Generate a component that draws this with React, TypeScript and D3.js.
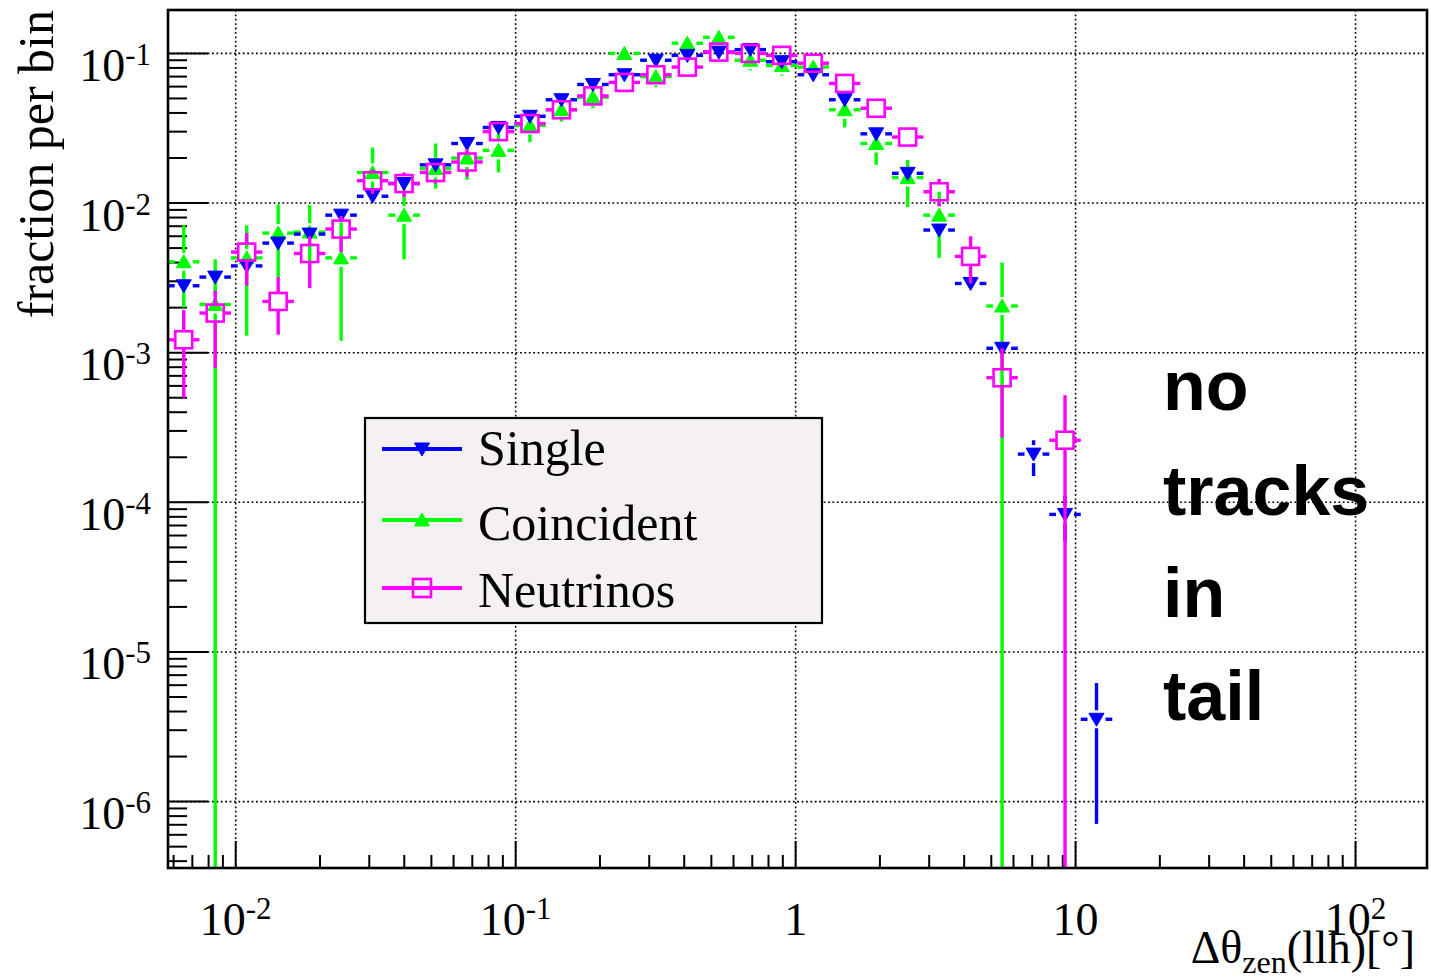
import React from 'react';
import * as d3 from 'd3';

// ---------- data ----------
const X_MIN = (1e-4 * 180) / Math.PI; // 1e-4 rad in degrees
const X_MAX = 180;
const N_BINS = 40;
const Y_MIN = 3.6e-7;
const Y_MAX = 0.195;

const xMajorTicks = [1e-2, 1e-1, 1, 10, 100];
const xMajorBase = ['10', '10', '1', '10', '10'];
const xMajorExp = ['-2', '-1', '', '', '2'];
const yMajorTicks = [1e-1, 1e-2, 1e-3, 1e-4, 1e-5, 1e-6];
const yMajorExp = ['-1', '-2', '-3', '-4', '-5', '-6'];

const seriesNames = ['Single', 'Coincident', 'Neutrinos'];
const seriesColors = ['#0000ff', '#00ff00', '#ff00ff'];

const singleVal = [2.8e-3, 3.2e-3, 3.8e-3, 5.4e-3, 6.2e-3, 8.3e-3, 1.11e-2, 1.35e-2, 1.8e-2, 2.5e-2, 3.2e-2, 3.8e-2, 4.9e-2, 6.2e-2, 7.2e-2, 9.0e-2, 9.7e-2, 1.02e-1, 1.06e-1, 8.8e-2, 7.2e-2, 4.9e-2, 2.9e-2, 1.58e-2, 6.6e-3, 2.9e-3, 1.07e-3, 2.1e-4, 8.3e-5, 3.55e-6];
const singleLo = [2.5e-3, 2.9e-3, 3.4e-3, 4.9e-3, 5.6e-3, 7.6e-3, 1.03e-2, 1.26e-2, 1.7e-2, 2.38e-2, 3.07e-2, 3.66e-2, 4.75e-2, 6.03e-2, 7.03e-2, 8.8e-2, 9.5e-2, 1.0e-1, 1.04e-1, 8.62e-2, 7.03e-2, 4.75e-2, 2.78e-2, 1.5e-2, 6.1e-3, 2.6e-3, 9.2e-4, 1.5e-4, 5.5e-5, 7.1e-7];
const singleHi = [3.1e-3, 3.5e-3, 4.2e-3, 5.9e-3, 6.8e-3, 9.0e-3, 1.19e-2, 1.44e-2, 1.9e-2, 2.62e-2, 3.33e-2, 3.94e-2, 5.05e-2, 6.37e-2, 7.37e-2, 9.2e-2, 9.9e-2, 1.04e-1, 1.08e-1, 8.98e-2, 7.37e-2, 5.05e-2, 3.02e-2, 1.66e-2, 7.1e-3, 3.2e-3, 1.22e-3, 2.6e-4, 1.1e-4, 6.2e-6];

const coincVal = [4.05e-3, 2.1e-3, 4.3e-3, 6.3e-3, 6.4e-3, 4.3e-3, 1.6e-2, 8.3e-3, 1.7e-2, 2.0e-2, 2.25e-2, 3.3e-2, 4.2e-2, 5.1e-2, 1.0e-1, 7.0e-2, 1.17e-1, 1.28e-1, 9.0e-2, 8.3e-2, 8.1e-2, 4.2e-2, 2.5e-2, 1.48e-2, 8.3e-3, null, 2.05e-3, null, null, null];
const coincLo = [2.0e-3, 0, 1.3e-3, 3.2e-3, 2.7e-3, 1.2e-3, 1.05e-2, 4.2e-3, 1.25e-2, 1.43e-2, 1.6e-2, 2.55e-2, 3.5e-2, 4.3e-2, 8.8e-2, 5.95e-2, 1.03e-1, 1.14e-1, 7.7e-2, 7.1e-2, 6.9e-2, 3.2e-2, 1.8e-2, 9.4e-3, 4.3e-3, null, 0, null, null, null];
const coincHi = [7.1e-3, 4.2e-3, 7.1e-3, 9.8e-3, 9.7e-3, 7.4e-3, 2.35e-2, 1.25e-2, 2.5e-2, 2.5e-2, 2.9e-2, 4.0e-2, 5.0e-2, 5.9e-2, 1.12e-1, 8.0e-2, 1.31e-1, 1.42e-1, 1.03e-1, 9.5e-2, 9.3e-2, 5.2e-2, 3.2e-2, 1.94e-2, 1.19e-2, null, 4.0e-3, null, null, null];

const nuVal = [1.22e-3, 1.84e-3, 4.7e-3, 2.2e-3, 4.6e-3, 6.7e-3, 1.41e-2, 1.35e-2, 1.6e-2, 1.88e-2, 3.0e-2, 3.4e-2, 4.2e-2, 5.2e-2, 6.4e-2, 7.2e-2, 8.1e-2, 1.02e-1, 1.0e-1, 9.7e-2, 8.6e-2, 6.3e-2, 4.3e-2, 2.76e-2, 1.19e-2, 4.4e-3, 6.8e-4, null, 2.6e-4, null];
const nuLo = [5.0e-4, 7.9e-4, 2.8e-3, 1.32e-3, 2.7e-3, 4.7e-3, 1.15e-2, 1.1e-2, 1.35e-2, 1.5e-2, 2.75e-2, 3.15e-2, 3.95e-2, 4.9e-2, 6.1e-2, 6.85e-2, 7.75e-2, 9.8e-2, 9.6e-2, 9.3e-2, 8.2e-2, 5.95e-2, 4.0e-2, 2.55e-2, 9.5e-3, 2.9e-3, 2.7e-4, null, 0, null];
const nuHi = [1.93e-3, 2.6e-3, 6.3e-3, 3.2e-3, 6.0e-3, 8.2e-3, 1.67e-2, 1.6e-2, 1.85e-2, 2.3e-2, 3.25e-2, 3.65e-2, 4.45e-2, 5.5e-2, 6.7e-2, 7.55e-2, 8.45e-2, 1.06e-1, 1.04e-1, 1.01e-1, 9.0e-2, 6.65e-2, 4.6e-2, 2.97e-2, 1.45e-2, 6.0e-3, 1.07e-3, null, 5.2e-4, null];

const annotationLines = ['no', 'tracks', 'in', 'tail'];

// ---------- layout ----------
const W = 1431;
const H = 980;
const PL = 168;
const PR = 1427;
const PT = 10;
const PB = 868;

const x = d3.scaleLog().domain([X_MIN, X_MAX]).range([PL, PR]);
const y = d3.scaleLog().domain([Y_MIN, Y_MAX]).range([PB, PT]);

const lmin = Math.log10(X_MIN);
const lmax = Math.log10(X_MAX);
const binEdges = d3.range(N_BINS + 1).map((i) => Math.pow(10, lmin + (i * (lmax - lmin)) / N_BINS));

const SERIF = '"Liberation Serif", "Times New Roman", serif';
const SANS = '"Liberation Sans", Arial, Helvetica, sans-serif';

type Shape = 'down' | 'up' | 'square';

function Marker({ cx, cy, shape, color }: { cx: number; cy: number; shape: Shape; color: string }) {
  if (shape === 'square') {
    return <rect x={cx - 8.5} y={cy - 8.5} width={17} height={17} fill="none" stroke={color} strokeWidth={2.6} />;
  }
  const hw = 7.5;
  const d =
    shape === 'down'
      ? `M${cx - hw},${cy - 6} L${cx + hw},${cy - 6} L${cx},${cy + 7} Z`
      : `M${cx - hw},${cy + 6} L${cx + hw},${cy + 6} L${cx},${cy - 7} Z`;
  return <path d={d} fill={color} stroke={color} strokeWidth={1} />;
}

function Series({ vals, lo, hi, color, shape }: { vals: (number | null)[]; lo: (number | null)[]; hi: (number | null)[]; color: string; shape: Shape }) {
  const gap = 9;
  const els: React.ReactNode[] = [];
  vals.forEach((v, i) => {
    if (v == null || v <= 0) return;
    const x0 = x(binEdges[i]);
    const x1 = x(binEdges[i + 1]);
    const cx = (x0 + x1) / 2;
    const cy = y(v);
    const half = (x1 - x0) / 2;
    const sw = 3.4;
    els.push(<line key={`hl${i}`} x1={cx - half} x2={cx - gap} y1={cy} y2={cy} stroke={color} strokeWidth={sw} />);
    els.push(<line key={`hr${i}`} x1={cx + gap} x2={cx + half} y1={cy} y2={cy} stroke={color} strokeWidth={sw} />);
    const h = hi[i];
    if (h != null && h > 0) {
      const yh = Math.max(PT, y(h));
      if (cy - yh > gap) els.push(<line key={`vu${i}`} x1={cx} x2={cx} y1={cy - gap} y2={yh} stroke={color} strokeWidth={sw} />);
    }
    const l = lo[i];
    if (l != null) {
      const yl = l <= 0 ? PB : Math.min(PB, y(l));
      if (yl - cy > gap) els.push(<line key={`vd${i}`} x1={cx} x2={cx} y1={cy + gap} y2={yl} stroke={color} strokeWidth={sw} />);
    }
    els.push(<Marker key={`m${i}`} cx={cx} cy={cy} shape={shape} color={color} />);
  });
  return <g>{els}</g>;
}

export default function App() {
  // ticks
  const yTicks: { v: number; major: boolean }[] = [];
  for (let e = -7; e <= -1; e++) {
    for (let m = 1; m <= 9; m++) {
      const v = m * Math.pow(10, e);
      if (v >= Y_MIN && v <= Y_MAX) yTicks.push({ v, major: m === 1 });
    }
  }
  const xTicks: { v: number; major: boolean }[] = [];
  for (let e = -3; e <= 2; e++) {
    for (let m = 1; m <= 9; m++) {
      const v = m * Math.pow(10, e);
      if (v >= X_MIN && v <= X_MAX) xTicks.push({ v, major: m === 1 });
    }
  }

  const legendY = [449, 520, 588];
  const legendTextY = [465, 540, 607];
  const shapes: Shape[] = ['down', 'up', 'square'];
  const annotY = [410, 515, 617, 720];

  return (
    <svg width={W} height={H} style={{ position: 'absolute', left: 0, top: 0, background: '#ffffff' }}>
      <rect x={0} y={0} width={W} height={H} fill="#ffffff" />
      {/* grid */}
      <g stroke="#000" strokeWidth={1.6} strokeDasharray="1.8 2.6">
        {xMajorTicks.map((v) => (
          <line key={`gx${v}`} x1={x(v)} x2={x(v)} y1={PT} y2={PB} />
        ))}
        {yMajorTicks.map((v) => (
          <line key={`gy${v}`} x1={PL} x2={PR} y1={y(v)} y2={y(v)} />
        ))}
      </g>
      {/* ticks */}
      <g stroke="#000" strokeWidth={2}>
        {yTicks.map((t) => (
          <line key={`yt${t.v}`} x1={PL} x2={PL + (t.major ? 40 : 19)} y1={y(t.v)} y2={y(t.v)} />
        ))}
        {xTicks.map((t) => (
          <line key={`xt${t.v}`} x1={x(t.v)} x2={x(t.v)} y1={PB} y2={PB - (t.major ? 27 : 13)} />
        ))}
      </g>

      {/* data */}
      <Series vals={coincVal} lo={coincLo} hi={coincHi} color={seriesColors[1]} shape="up" />
      <Series vals={singleVal} lo={singleLo} hi={singleHi} color={seriesColors[0]} shape="down" />
      <Series vals={nuVal} lo={nuLo} hi={nuHi} color={seriesColors[2]} shape="square" />

      {/* frame */}
      <rect x={PL} y={PT} width={PR - PL} height={PB - PT} fill="none" stroke="#000" strokeWidth={2.6} />

      {/* y labels */}
      <g fontFamily={SERIF} fill="#000">
        {yMajorTicks.map((v, i) => (
          <text key={`yl${v}`} x={151} y={y(v) + 27.5} textAnchor="end" fontSize={46}>
            10
            <tspan fontSize={31} dy={-16}>
              {yMajorExp[i]}
            </tspan>
          </text>
        ))}
        {xMajorTicks.map((v, i) => (
          <text key={`xl${v}`} x={x(v)} y={935} textAnchor="middle" fontSize={46}>
            {xMajorBase[i]}
            {xMajorExp[i] ? (
              <tspan fontSize={31} dy={-16}>
                {xMajorExp[i]}
              </tspan>
            ) : null}
          </text>
        ))}
        {/* axis titles */}
        <text x={1415} y={963} textAnchor="end" fontSize={46}>
          Δθ
          <tspan fontSize={32} dy={10}>
            zen
          </tspan>
          <tspan dy={-10}>(llh)[°]</tspan>
        </text>
        <text transform={`translate(53,10) rotate(-90)`} textAnchor="end" fontSize={50}>
          fraction per bin
        </text>
      </g>

      {/* legend */}
      <g>
        <rect x={365} y={418} width={457} height={205} fill="#f4f0f4" stroke="#000" strokeWidth={2.2} />
        {seriesNames.map((name, i) => (
          <g key={name}>
            <line x1={382} x2={462} y1={legendY[i]} y2={legendY[i]} stroke={seriesColors[i]} strokeWidth={4} />
            {shapes[i] === 'square' ? (
              <rect x={413} y={legendY[i] - 9} width={18} height={18} fill="none" stroke={seriesColors[i]} strokeWidth={2.6} />
            ) : (
              <Marker cx={422} cy={legendY[i]} shape={shapes[i]} color={seriesColors[i]} />
            )}
            <text x={478} y={legendTextY[i]} fontFamily={SERIF} fontSize={50} fill="#000">
              {name}
            </text>
          </g>
        ))}
      </g>

      {/* annotation */}
      <g fontFamily={SANS} fontWeight="bold" fontSize={70} fill="#000">
        {annotationLines.map((t, i) => (
          <text key={t} x={1163} y={annotY[i]}>
            {t}
          </text>
        ))}
      </g>
    </svg>
  );
}
